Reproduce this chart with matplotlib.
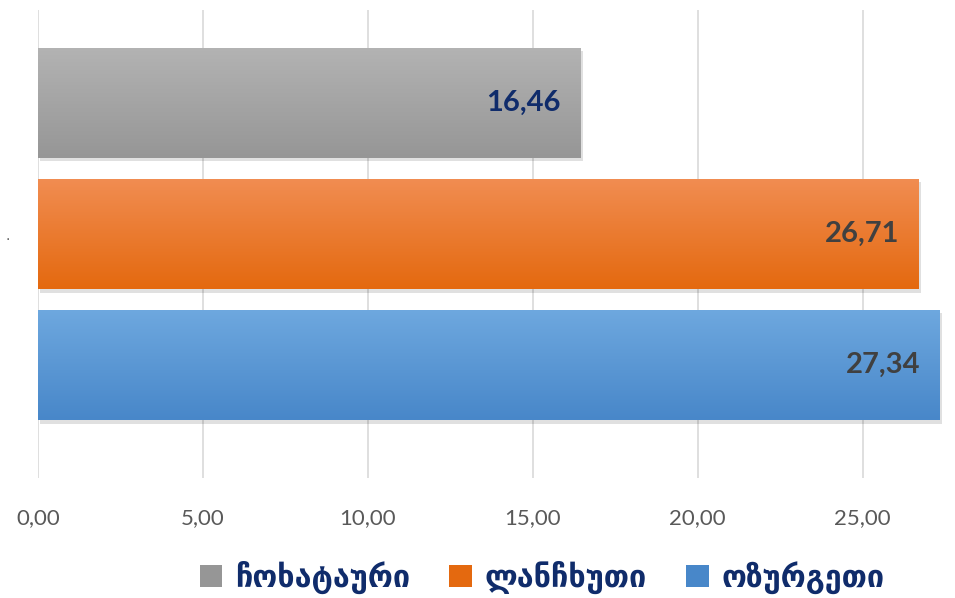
import numpy as np
import matplotlib
matplotlib.use("Agg")
import matplotlib.pyplot as plt
from matplotlib.patches import Rectangle
from matplotlib.colors import LinearSegmentedColormap

series = ["ჩოხატაური", "ლანჩხუთი", "ოზურგეთი"]
values = [16.46, 26.71, 27.34]
value_labels = ["16,46", "26,71", "27,34"]
xticks = [0, 5, 10, 15, 20, 25]
xtick_labels = ["0,00", "5,00", "10,00", "15,00", "20,00", "25,00"]
category = "."

top_colors = ["#b3b3b3", "#f18d52", "#6ea8df"]
bot_colors = ["#969696", "#e4690f", "#4887c9"]
label_colors = ["#102c6b", "#404040", "#404040"]

fig = plt.figure(figsize=(9.55, 5.98), dpi=100)
ax = fig.add_axes([38/955, 1 - 478/598, (945 - 38)/955, (478 - 10)/598])

ypos = np.arange(len(values))
height = 0.84
bars = ax.barh(ypos, values, height=height, color="none", edgecolor="none", zorder=3)

for i, (b, v) in enumerate(zip(bars, values)):
    x0, y0 = b.get_x(), b.get_y()
    w, h = b.get_width(), b.get_height()
    sh = Rectangle((x0 + 0.06, y0 + 0.025), w, h, facecolor="#000000", alpha=0.12,
                   edgecolor="none", zorder=2)
    ax.add_patch(sh)
    cmap = LinearSegmentedColormap.from_list("g%d" % i, [top_colors[i], bot_colors[i]])
    grad = np.linspace(0, 1, 256).reshape(-1, 1)
    im = ax.imshow(grad, cmap=cmap, aspect="auto", extent=(x0, x0 + w, y0 + h, y0),
                   zorder=3, interpolation="bicubic")
    clip = Rectangle((x0, y0), w, h, transform=ax.transData, facecolor="none", edgecolor="none")
    ax.add_patch(clip)
    im.set_clip_path(clip)
    ax.text(v - 0.6, ypos[i], value_labels[i], ha="right", va="center",
            fontsize=21, fontweight="bold", color=label_colors[i], family="Lato", zorder=5)

ax.set_xlim(0, 27.5)
ax.set_ylim(2 + 0.86, -0.71)
ax.set_xticks(xticks)
ax.set_xticklabels(xtick_labels, fontsize=16, color="#595959", family="Lato")
ax.set_yticks([1])
ax.set_yticklabels([category], fontsize=10, color="#595959")
ax.tick_params(axis="both", length=0, pad=22)
ax.tick_params(axis="y", pad=20)
ax.grid(axis="x", color="#d9d9d9", linewidth=1.2, zorder=0)
ax.set_axisbelow(True)
for s in ax.spines.values():
    s.set_visible(False)

handles = [Rectangle((0, 0), 1, 1, facecolor=c, edgecolor="none") for c in bot_colors]
leg = fig.legend(handles, series, loc="center", bbox_to_anchor=(542/955, 1 - 577/598),
                 ncol=3, frameon=False, handlelength=0.75, handleheight=0.75,
                 handletextpad=0.4, columnspacing=1.3,
                 prop={"family": "DejaVu Sans", "size": 22, "weight": "bold"})
for t in leg.get_texts():
    t.set_color("#102c6b")

fig.savefig("out.png", dpi=100)
